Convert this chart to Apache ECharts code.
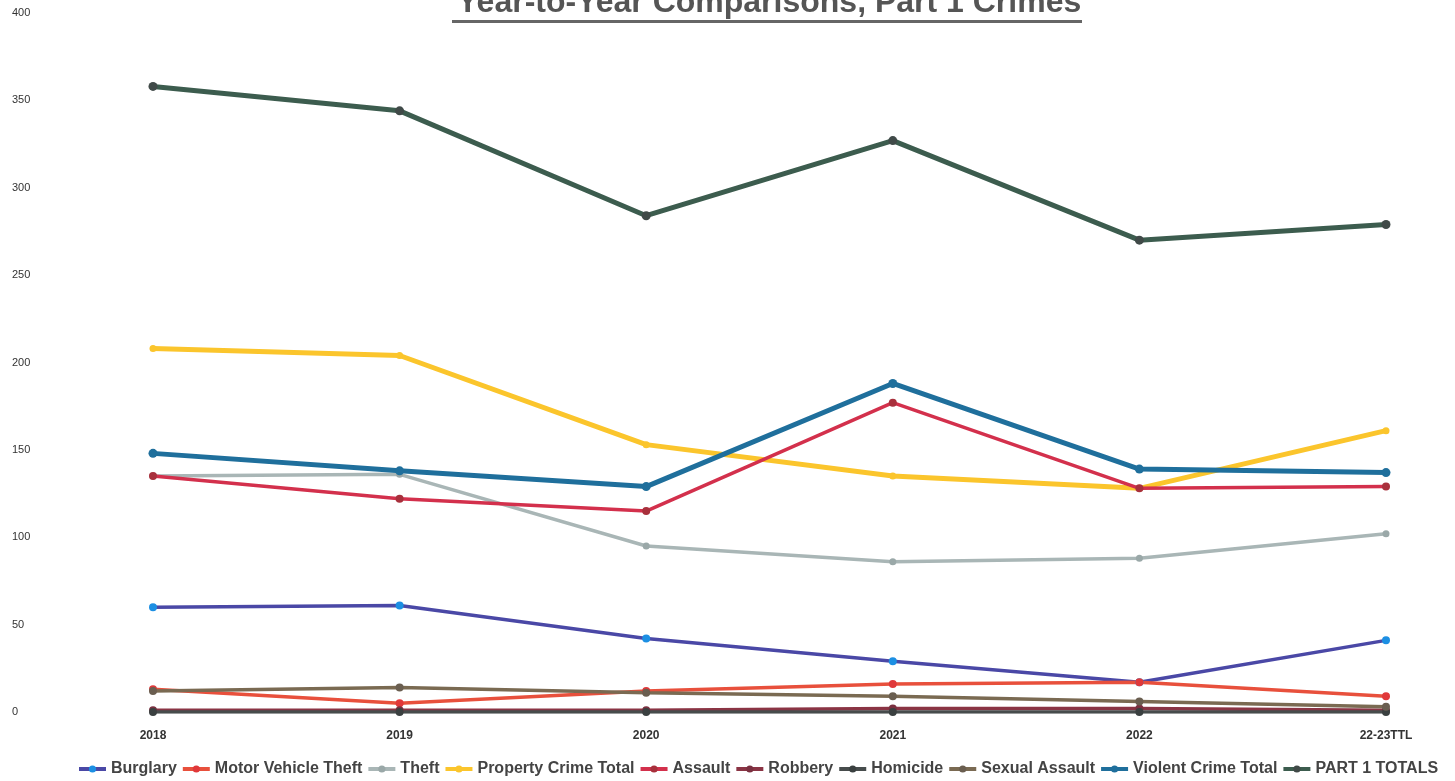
<!DOCTYPE html>
<html>
<head>
<meta charset="utf-8">
<title>Year-to-Year Comparisons, Part 1 Crimes</title>
<script src="https://cdn.jsdelivr.net/npm/echarts@6/dist/echarts.min.js"></script>
<style>
  html, body { margin: 0; padding: 0; background: #ffffff; }
  #chart { width: 1455px; height: 781px; }
</style>
</head>
<body>
<div id="chart"></div>
<script>
// Reporting periods on the category axis
const categories = ['2018', '2019', '2020', '2021', '2022', '22-23TTL'];

// Property crimes
const burglary = [60, 61, 42, 29, 17, 41];
const motorVehicleTheft = [13, 5, 12, 16, 17, 9];
const theft = [135, 136, 95, 86, 88, 102];
const propertyCrimeTotal = [208, 204, 153, 135, 128, 161];

// Violent crimes
const assault = [135, 122, 115, 177, 128, 129];
const robbery = [1, 1, 1, 2, 2, 1];
const homicide = [0, 0, 0, 0, 0, 0];
const sexualAssault = [12, 14, 11, 9, 6, 3];
const violentCrimeTotal = [148, 138, 129, 188, 139, 137];

// Combined total
const part1Totals = [358, 344, 284, 327, 270, 279];

const yTicks = [0, 50, 100, 150, 200, 250, 300, 350, 400];

const FONT = '"Liberation Sans", Arial, sans-serif';

function lineSeries(name, data, lineColor, markerColor, width, size) {
  return {
    name: name,
    type: 'line',
    data: data,
    symbol: 'circle',
    symbolSize: size,
    showSymbol: true,
    lineStyle: { color: lineColor, width: width },
    itemStyle: { color: markerColor },
    emphasis: { disabled: true },
    animation: false
  };
}

const chart = echarts.init(document.getElementById('chart'), null, { renderer: 'canvas' });

chart.setOption({
  backgroundColor: '#ffffff',
  animation: false,
  title: {
    text: 'Year-to-Year Comparisons, Part 1 Crimes',
    left: 452,
    top: -18,
    textStyle: {
      fontFamily: FONT,
      fontSize: 32,
      fontWeight: 'bold',
      color: '#555555'
    }
  },
  graphic: [
    {
      // title underline
      type: 'rect',
      left: 452,
      top: 20,
      shape: { width: 630, height: 3 },
      style: { fill: '#666666' },
      silent: true
    }
  ],
  legend: {
    left: 72,
    top: 756,
    itemWidth: 27,
    itemHeight: 9,
    itemGap: 4,
    lineStyle: { width: 4 },
    textStyle: {
      fontFamily: FONT,
      fontSize: 16,
      fontWeight: 'bold',
      color: '#444444'
    },
    data: ['Burglary', 'Motor Vehicle Theft', 'Theft', 'Property Crime Total', 'Assault',
           'Robbery', 'Homicide', 'Sexual Assault', 'Violent Crime Total', 'PART 1 TOTALS']
  },
  grid: {
    left: 153,
    right: 69,
    top: 13,
    bottom: 69,
    containLabel: false
  },
  xAxis: {
    type: 'category',
    data: categories,
    boundaryGap: false,
    axisLine: { show: false },
    axisTick: { show: false },
    splitLine: { show: false },
    axisLabel: {
      margin: 18,
      fontFamily: FONT,
      fontSize: 12,
      fontWeight: 'bold',
      color: '#333333'
    }
  },
  yAxis: {
    type: 'value',
    min: yTicks[0],
    max: yTicks[yTicks.length - 1],
    interval: 50,
    axisLine: { show: false },
    axisTick: { show: false },
    splitLine: { show: false },
    axisLabel: {
      align: 'left',
      margin: 141,
      fontFamily: FONT,
      fontSize: 11,
      color: '#333333'
    }
  },
  series: [
    lineSeries('Burglary', burglary, '#4a48a6', '#1c8fe3', 3.5, 8),
    lineSeries('Motor Vehicle Theft', motorVehicleTheft, '#e8503c', '#e0383a', 3.5, 8),
    lineSeries('Theft', theft, '#a9b6b6', '#9aa8a8', 3.5, 7),
    lineSeries('Property Crime Total', propertyCrimeTotal, '#fbc52c', '#fbc52c', 5, 7),
    lineSeries('Assault', assault, '#d3304c', '#a8303c', 3.5, 8),
    lineSeries('Robbery', robbery, '#8a3444', '#7a3040', 3.5, 8),
    lineSeries('Homicide', homicide, '#474c4c', '#3a4040', 3.5, 8),
    lineSeries('Sexual Assault', sexualAssault, '#7a6a52', '#6a5e50', 3.5, 8),
    lineSeries('Violent Crime Total', violentCrimeTotal, '#1f6f9c', '#1f6f9c', 5, 9),
    lineSeries('PART 1 TOTALS', part1Totals, '#3c5c4e', '#404a48', 5, 9)
  ]
});
</script>
</body>
</html>
